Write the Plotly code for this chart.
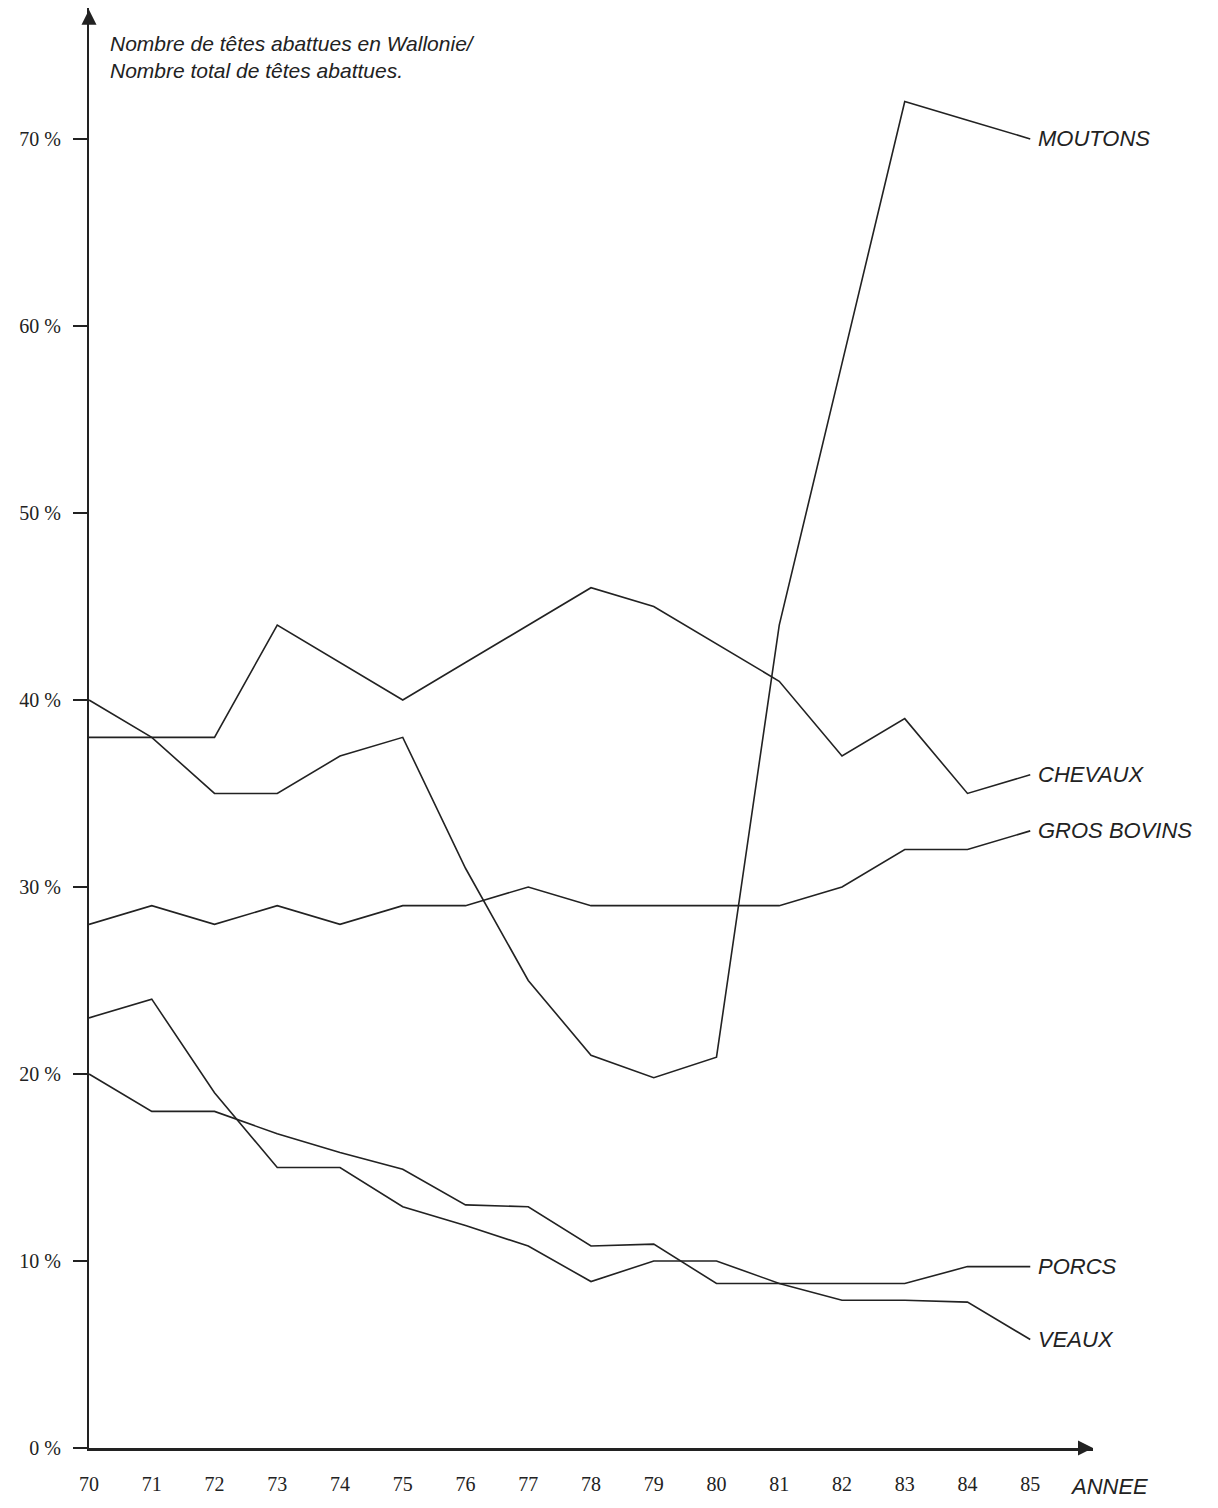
import plotly.graph_objects as go

years = list(range(70, 86))
moutons = [40, 38, 35, 35, 37, 38, 31, 25, 21, 19.8, 20.9, 44, 58, 72, 71, 70]
chevaux = [38, 38, 38, 44, 42, 40, 42, 44, 46, 45, 43, 41, 37, 39, 35, 36]
gros_bovins = [28, 29, 28, 29, 28, 29, 29, 30, 29, 29, 29, 29, 30, 32, 32, 33]
porcs = [23, 24, 19, 15, 15, 12.9, 11.9, 10.8, 8.9, 10, 10, 8.8, 8.8, 8.8, 9.7, 9.7]
veaux = [20, 18, 18, 16.8, 15.8, 14.9, 13, 12.9, 10.8, 10.9, 8.8, 8.8, 7.9, 7.9, 7.8, 5.8]
names = ["MOUTONS", "CHEVAUX", "GROS BOVINS", "PORCS", "VEAUX"]
series = [moutons, chevaux, gros_bovins, porcs, veaux]
y_ticks = [0, 10, 20, 30, 40, 50, 60, 70]

fig = go.Figure()
for name, vals in zip(names, series):
    fig.add_trace(go.Scatter(x=years, y=vals, mode="lines", name=name,
                             line=dict(color="#222", width=1.6), hoverinfo="skip"))
    fig.add_annotation(x=85, y=vals[-1], text="<i>" + name + "</i>", showarrow=False,
                       xanchor="left", xshift=6, font=dict(size=22, color="#222", family="Liberation Sans"))

# axis arrows
fig.add_annotation(x=86, y=0, ax=85.9, ay=0, axref="x", ayref="y", showarrow=True,
                   arrowhead=2, arrowsize=1.5, arrowwidth=2, arrowcolor="#222", text="")
fig.add_annotation(x=70, y=76.9, ax=70, ay=76.4, axref="x", ayref="y", showarrow=True,
                   arrowhead=2, arrowsize=1.5, arrowwidth=2, arrowcolor="#222", text="")
fig.add_annotation(x=70.3, y=75.8, text="<i>Nombre de têtes abattues en Wallonie/<br>Nombre total de têtes abattues.</i>",
                   showarrow=False, xanchor="left", yanchor="top", align="left",
                   font=dict(size=21, color="#222", family="Liberation Sans"))
fig.add_annotation(x=85.6, y=0, yshift=-38, text="<i>ANNEE</i>", showarrow=False,
                   xanchor="left", font=dict(size=22, color="#222", family="Liberation Sans"))

fig.update_layout(
    width=1218, height=1508, margin=dict(l=81, r=133, t=0, b=68),
    plot_bgcolor="white", paper_bgcolor="white", showlegend=False,
    font=dict(family="Liberation Serif", size=20, color="#222"),
    xaxis=dict(range=[70, 86], tickvals=years, ticks="", showgrid=False, zeroline=False,
               showline=True, linecolor="#222", linewidth=2.5, ticklabelstandoff=16),
    yaxis=dict(range=[0, 77.0], tickvals=y_ticks, ticktext=[f"{v} %" for v in y_ticks],
               ticks="outside", ticklen=14, tickwidth=1.5, tickcolor="#222", showgrid=False,
               zeroline=False, showline=True, linecolor="#222", linewidth=2, ticklabelstandoff=8),
)
fig.write_html("out.html")
